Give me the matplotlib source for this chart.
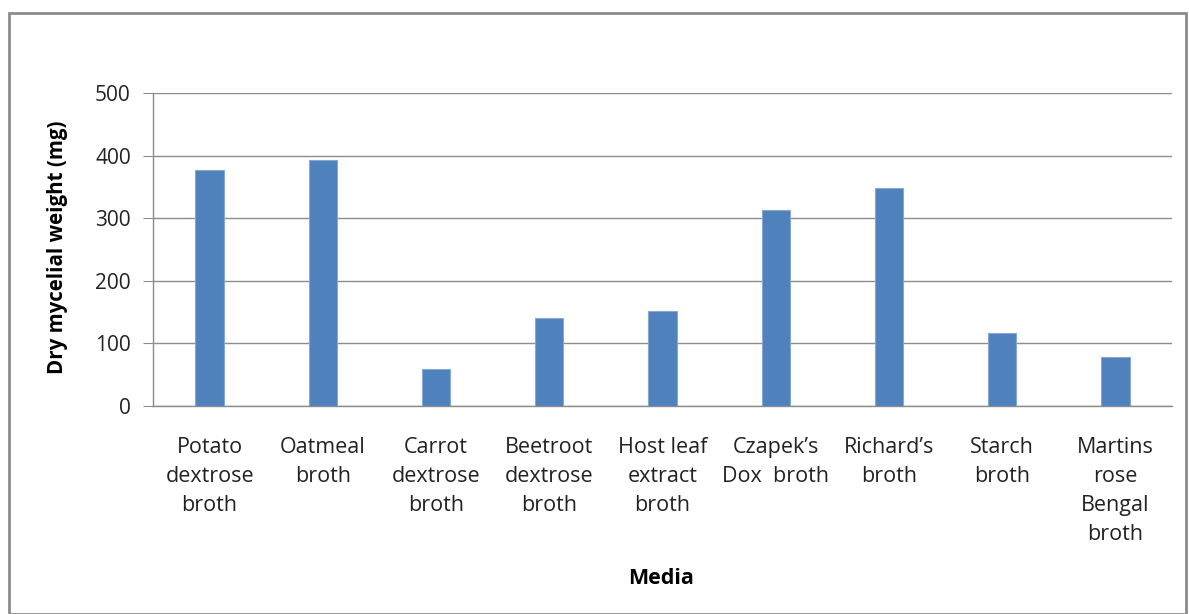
import matplotlib.pyplot as plt
from matplotlib.patches import Rectangle

plt.rcParams['font.family'] = ['Open Sans', 'DejaVu Sans']

media = ["Potato\ndextrose\nbroth", "Oatmeal\nbroth", "Carrot\ndextrose\nbroth",
         "Beetroot\ndextrose\nbroth", "Host leaf\nextract\nbroth", "Czapek\u2019s\nDox  broth",
         "Richard\u2019s\nbroth", "Starch\nbroth", "Martins\nrose\nBengal\nbroth"]
weight = [377, 393, 59, 141, 152, 313, 349, 116, 79]
yticks = [0, 100, 200, 300, 400, 500]

fig = plt.figure(figsize=(11.89, 6.14), dpi=100)
fig.patches.append(Rectangle((9 / 1189, 0), 1177 / 1189, 1 - 13 / 614,
                             transform=fig.transFigure, fill=False,
                             edgecolor='#8c8c8c', linewidth=2))

ax = fig.add_axes([153 / 1189, 1 - 406 / 614, 1019 / 1189, 313 / 614])
x = range(len(media))
ax.bar(x, weight, width=0.25, color='#4f81bd', edgecolor='#86a8d3', linewidth=0.8, zorder=3)

ax.set_xlim(-0.5, len(media) - 0.5)
ax.set_ylim(0, 500)
ax.set_yticks(yticks)
ax.yaxis.grid(True, color='#8c8c8c', linewidth=1)
ax.set_axisbelow(True)
ax.set_xticks(list(x))
ax.set_xticklabels(media, fontsize=15.5, color='#222222', linespacing=1.5)
ax.tick_params(axis='x', length=0, pad=22)
ax.tick_params(axis='y', length=7, color='#8c8c8c', labelsize=15, pad=9, labelcolor='#222222')

for s in ['top', 'right']:
    ax.spines[s].set_visible(False)
for s in ['left', 'bottom']:
    ax.spines[s].set_color('#8c8c8c')
    ax.spines[s].set_linewidth(1)

fig.text(58 / 1189, 1 - 247 / 614, "Dry mycelial weight (mg)", rotation=90,
         ha='center', va='center', fontsize=14.8, fontweight='bold')
fig.text(661 / 1189, 1 - 578 / 614, "Media", ha='center', va='center',
         fontsize=15.5, fontweight='bold')

fig.savefig("out.png", dpi=100)
